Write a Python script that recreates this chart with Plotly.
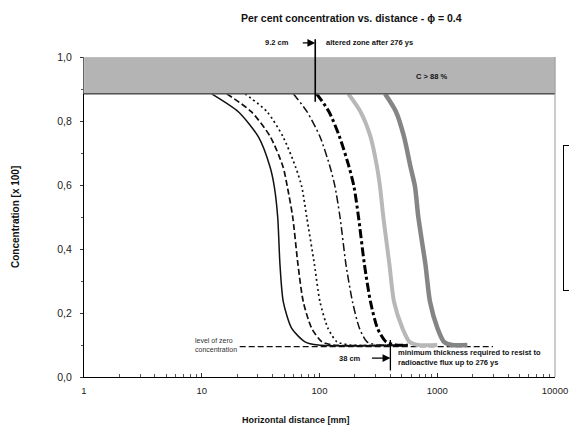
import math
import plotly.graph_objects as go

# ---- data ----
series_names = ["Curve 1", "Curve 2", "Curve 3", "Curve 4", "Curve 5", "Curve 6", "Curve 7"]

# concentration levels at which each curve's distance was read
conc_levels = [0.885, 0.829, 0.751, 0.657, 0.595, 0.50, 0.35, 0.235, 0.152, 0.110, 0.10]

# distances [mm] for each curve at those levels, then the flat tail at 0.1
c1_x = [12.15, 20.44, 30.22, 37.98, 41.31, 44.16, 46.19, 49.27, 58.07, 75.31, 97.7]
c2_x = [16.29, 26.35, 38.21, 48.98, 53.29, 59.21, 65.70, 72.85, 85.87, 105.0, 130.2]
c3_x = [23.30, 35.83, 48.98, 62.55, 70.62, 77.87, 90.68, 100.98, 118.1, 140.8, 181.6]
c4_x = [59.91, 78.31, 100.98, 122.8, 135.4, 149.3, 168.0, 190.7, 218.7, 253.2, 314.0]
c5_x = [94.67, 120.4, 147.9, 178.1, 196.3, 214.4, 241.1, 271.1, 310.9, 367.1, 446.3]
c6_x = [175.7, 222.9, 271.1, 307.8, 326.4, 348.3, 393.0, 429.3, 506.9, 581.2, 686.4]
c7_x = [359.9, 446.3, 521.9, 592.7, 647.1, 690.5, 794.8, 867.9, 1005, 1141, 1334]

tail_end_x = [560, 560, 560, 560, 560, 1000, 1800]
tail_level = 0.10

zero_level_x = [21, 2975]
zero_level_y = [0.095, 0.095]

x_tickvals = [1, 10, 100, 1000, 10000]
x_ticktext = ["1", "10", "100", "1000", "10000"]
y_tickvals = [0.0, 0.2, 0.4, 0.6, 0.8, 1.0]
y_ticktext = ["0,0", "0,2", "0,4", "0,6", "0,8", "1,0"]

band_low, band_high = 0.885, 1.0
altered_zone_mm = 92      # 9.2 cm
min_thickness_mm = 400    # 38 cm marker position

# ---- styles ----
styles = [
    dict(color="#111111", width=1.5, dash="solid"),
    dict(color="#111111", width=1.7, dash="6px,3px"),
    dict(color="#111111", width=1.7, dash="2px,3px"),
    dict(color="#111111", width=1.5, dash="8px,3px,2px,3px"),
    dict(color="#000000", width=3.0, dash="9px,3px,3px,3px"),
    dict(color="#b8b8b8", width=4.0, dash="solid"),
    dict(color="#858585", width=4.5, dash="solid"),
]

xs = [c1_x, c2_x, c3_x, c4_x, c5_x, c6_x, c7_x]

FONT = "Liberation Sans, Arial, sans-serif"

fig = go.Figure()

fig.add_trace(go.Scatter(
    x=zero_level_x, y=zero_level_y, mode="lines",
    line=dict(color="#111111", width=1.4, dash="6px,3px"),
    showlegend=False, hoverinfo="skip"))

for name, x, tail, st in zip(series_names, xs, tail_end_x, styles):
    fig.add_trace(go.Scatter(x=x + [tail], y=conc_levels + [tail_level], mode="lines", name=name,
                             line=dict(shape="spline", smoothing=0.7, **st)))

lg = math.log10

shapes = [
    dict(type="rect", xref="paper", yref="y", x0=0, x1=1, y0=band_low, y1=band_high,
         fillcolor="#b4b4b4", line=dict(color="#c8c8c8", width=1), layer="above"),
    dict(type="line", xref="paper", yref="y", x0=0, x1=1, y0=band_low, y1=band_low,
         line=dict(color="#555555", width=1.4), layer="above"),
    dict(type="line", xref="paper", yref="paper", x0=1, x1=1, y0=0, y1=1,
         line=dict(color="#999999", width=1)),
]

small = dict(family=FONT, size=7.5, color="#111111")
annotations = [
    # title
    dict(text="<b>Per cent concentration vs. distance - \u03d5 = 0.4</b>", xref="paper", yref="paper",
         x=0.569, y=1.122, xanchor="center", yanchor="middle", showarrow=False,
         font=dict(family=FONT, size=10.5, color="#111111")),
    # axis titles
    dict(text="<b>Concentration [x 100]</b>", xref="paper", yref="paper", x=-0.1465, y=0.5,
         xanchor="center", yanchor="middle", textangle=-90, showarrow=False,
         font=dict(family=FONT, size=10, color="#111111")),
    dict(text="<b>Horizontal distance [mm]</b>", xref="paper", yref="paper", x=0.45, y=-0.134,
         xanchor="center", yanchor="middle", showarrow=False,
         font=dict(family=FONT, size=9, color="#111111")),
    # altered zone callout
    dict(text="", x=lg(altered_zone_mm), y=0.86, xref="x", yref="y", showarrow=True,
         arrowhead=0, arrowwidth=1.6, arrowcolor="#000", ax=0, ay=-64),
    dict(text="", x=lg(altered_zone_mm), y=1.044, xref="x", yref="paper", showarrow=True,
         arrowhead=2, arrowsize=1.2, arrowwidth=1.3, arrowcolor="#000", ax=-14, ay=0),
    dict(text="<b>9.2 cm</b>", x=lg(altered_zone_mm), y=1.044, xref="x", yref="paper",
         xanchor="right", yanchor="middle", xshift=-24, showarrow=False, font=small),
    dict(text="<b>altered zone after 276 ys</b>", x=lg(altered_zone_mm), y=1.044, xref="x",
         yref="paper", xanchor="left", yanchor="middle", xshift=9, showarrow=False, font=small),
    dict(text="<b>C > 88 %</b>", x=lg(900), y=0.94, xref="x", yref="y", xanchor="center",
         yanchor="middle", showarrow=False, font=small),
    # zero level label
    dict(text="level of zero<br>concentration", x=lg(zero_level_x[0]), y=0.1, xref="x", yref="y",
         xanchor="right", yanchor="middle", align="left", xshift=-1, showarrow=False,
         font=dict(family=FONT, size=7, color="#333333")),
    # minimum thickness callout
    dict(text="", x=lg(min_thickness_mm), y=0.02, xref="x", yref="y", showarrow=True,
         arrowhead=0, arrowwidth=1.3, arrowcolor="#000", ax=0, ay=-32),
    dict(text="", x=lg(min_thickness_mm), y=0.059, xref="x", yref="y", showarrow=True,
         arrowhead=2, arrowsize=1.2, arrowwidth=1.3, arrowcolor="#000", ax=-20, ay=0),
    dict(text="<b>38 cm</b>", x=lg(min_thickness_mm), y=0.059, xref="x", yref="y",
         xanchor="right", yanchor="middle", xshift=-27, showarrow=False, font=small),
    dict(text="<b>minimum thickness required to resist to<br>radioactive flux up to 276 ys</b>",
         x=lg(min_thickness_mm), y=0.0625, xref="x", yref="y", xanchor="left", yanchor="middle",
         align="left", xshift=6, showarrow=False, font=small),
]

fig.update_layout(
    width=569, height=429,
    margin=dict(l=84, r=14, t=57, b=52, autoexpand=False),
    paper_bgcolor="white", plot_bgcolor="white",
    font=dict(family=FONT, color="#222222"),
    shapes=shapes, annotations=annotations,
    legend=dict(x=1.017, xanchor="left", y=0.497, yanchor="middle",
                bordercolor="#000", borderwidth=1.2, bgcolor="white",
                font=dict(family=FONT, size=7), tracegroupgap=0),
    showlegend=True,
)

fig.update_xaxes(type="log", range=[0, 4], tickvals=x_tickvals, ticktext=x_ticktext,
                 showgrid=False, zeroline=False, showline=True, linecolor="#000", linewidth=1.3,
                 ticks="inside", ticklen=4, tickcolor="#333",
                 minor=dict(ticks="inside", ticklen=3, tickcolor="#555", dtick="D1", showgrid=False),
                 tickfont=dict(family=FONT, size=9.5, color="#222"), ticklabelstandoff=4)
fig.update_yaxes(range=[0, 1], tickvals=y_tickvals, ticktext=y_ticktext,
                 showgrid=False, zeroline=False, showline=True, linecolor="#000", linewidth=1.3,
                 ticks="outside", ticklen=3, tickcolor="#333",
                 minor=dict(ticks="outside", ticklen=2, tickcolor="#555", dtick=0.1, showgrid=False),
                 tickfont=dict(family=FONT, size=10.5, color="#222"), ticklabelstandoff=6)

fig.write_html("out.html")
